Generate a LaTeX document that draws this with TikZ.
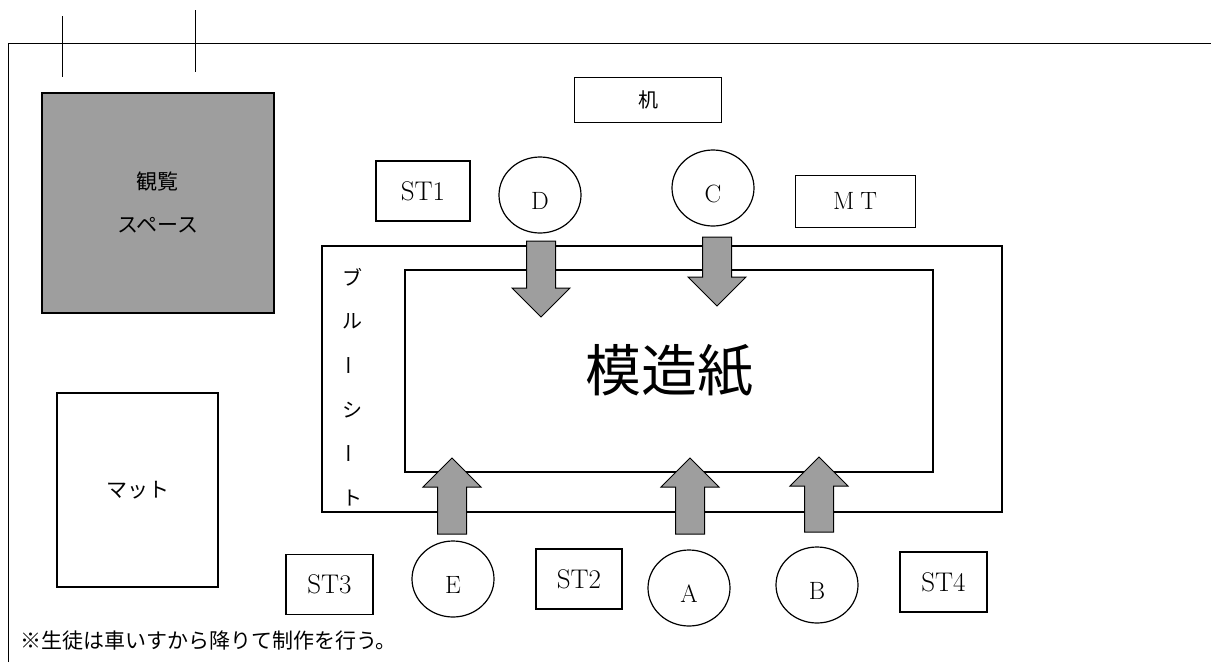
\documentclass[tikz,border=0pt]{standalone}
\usepackage{fontspec}
\usepackage{graphicx}
\newfontfamily\jp{Noto Sans CJK JP}
\usetikzlibrary{calc,shapes.geometric}
\definecolor{stipple}{HTML}{9E9E9E}

% wide gray arrow from #1 to #2 (vertical only)
\newcommand{\blockarrow}[2]{%
  \coordinate (hb) at ($(#2)!29pt!(#1)$);
  \draw[blockarr] ($(#1)+(-14.5,0)$) -- ($(#1)+(14.5,0)$) -- ($(hb)+(14.5,0)$)
    -- ($(hb)+(29,0)$) -- (#2) -- ($(hb)+(-29,0)$) -- ($(hb)+(-14.5,0)$) -- cycle;}

\begin{document}
\begin{tikzpicture}[x=1pt,y=-1pt,
    box/.style={draw,line width=1.2pt,inner sep=0pt},
    seat/.style={draw,ellipse,line width=1.2pt,minimum width=82pt,minimum height=76pt,
      inner sep=0pt,label={[seatletter]center:#1}},
    seatletter/.style={font=\fontsize{25}{28}\selectfont,yshift=-6pt},
    stand/.style={box,minimum height=60pt,font=\fontsize{27}{30}\selectfont},
    blockarr/.style={draw,line width=1pt,fill=stipple},
    jptext/.style={font=\jp\fontsize{21}{24}\selectfont}]

  \useasboundingbox (0,0) rectangle (1211,662);

  % frame and tick marks
  \draw[line width=1pt] (8,662) -- (8,43) -- (1211,43);
  \draw[line width=1pt] (62,16) -- (62,77) (195,10) -- (195,72);

  % left side
  \node[box,fill=stipple,minimum width=232pt,minimum height=220pt] (view) at (158,203) {};
  \node[jptext] (viewA) at (157,182) {観覧};
  \node[jptext] (viewB) at (158,225) {スペース};
  \node[box,jptext,minimum width=161pt,minimum height=194pt] (mat) at (137.5,490) {マット};

  % desk
  \node[box,minimum width=147pt,minimum height=45pt,font=\jp\fontsize{20}{22}\selectfont] (desk) at (648,100) {机};

  % blue sheet and paper
  \node[box,minimum width=680pt,minimum height=266pt] (sheet) at (662,379) {};
  \node[box,minimum width=528pt,minimum height=202pt,font=\jp\fontsize{56}{60}\selectfont] (paper) at (669,371) {模造紙};
  \foreach \ch [count=\i from 0] in {ブ,ル,{\rotatebox{90}{ー}},シ,{\rotatebox{90}{ー}},ト}
    \node[font=\jp\fontsize{20}{22}\selectfont] (sheet\i) at (352,277+44.2*\i) {\ch};

  % stands
  \node[stand,minimum width=94pt] (st1) at (423,191) {ST1};
  \node[stand,minimum width=86pt] (st2) at (579,579) {ST2};
  \node[stand,minimum width=87pt] (st3) at (329.5,584.5) {ST3};
  \node[stand,minimum width=87pt] (st4) at (943.5,582) {ST4};
  \node[box,line width=0.9pt,minimum width=120pt,minimum height=52pt,font=\fontsize{25}{28}\selectfont] (mt) at (855,201) {M\hspace{6pt}T};

  % seats
  \node[seat=D] (D) at (540,195) {};
  \node[seat=C] (C) at (713,188) {};
  \node[seat=E] (E) at (453,579) {};
  \node[seat=A] (A) at (689,588) {};
  \node[seat=B] (B) at (817,585) {};

  % arrows to the paper
  \coordinate (dS) at (541,241);  \coordinate (dT) at (541,317);
  \coordinate (cS) at (717,237);  \coordinate (cT) at (717,306);
  \coordinate (eS) at (452,534);  \coordinate (eT) at (452,458);
  \coordinate (aS) at (690,534);  \coordinate (aT) at (690,458);
  \coordinate (bS) at (819,532);  \coordinate (bT) at (819,457);
  \blockarrow{dS}{dT}
  \blockarrow{cS}{cT}
  \blockarrow{eS}{eT}
  \blockarrow{aS}{aT}
  \blockarrow{bS}{bT}

  % note
  \node[anchor=west,inner sep=0pt,font=\jp\fontsize{21}{23}\selectfont] (note) at (20,641) {※生徒は車いすから降りて制作を行う。};
\end{tikzpicture}
\end{document}
